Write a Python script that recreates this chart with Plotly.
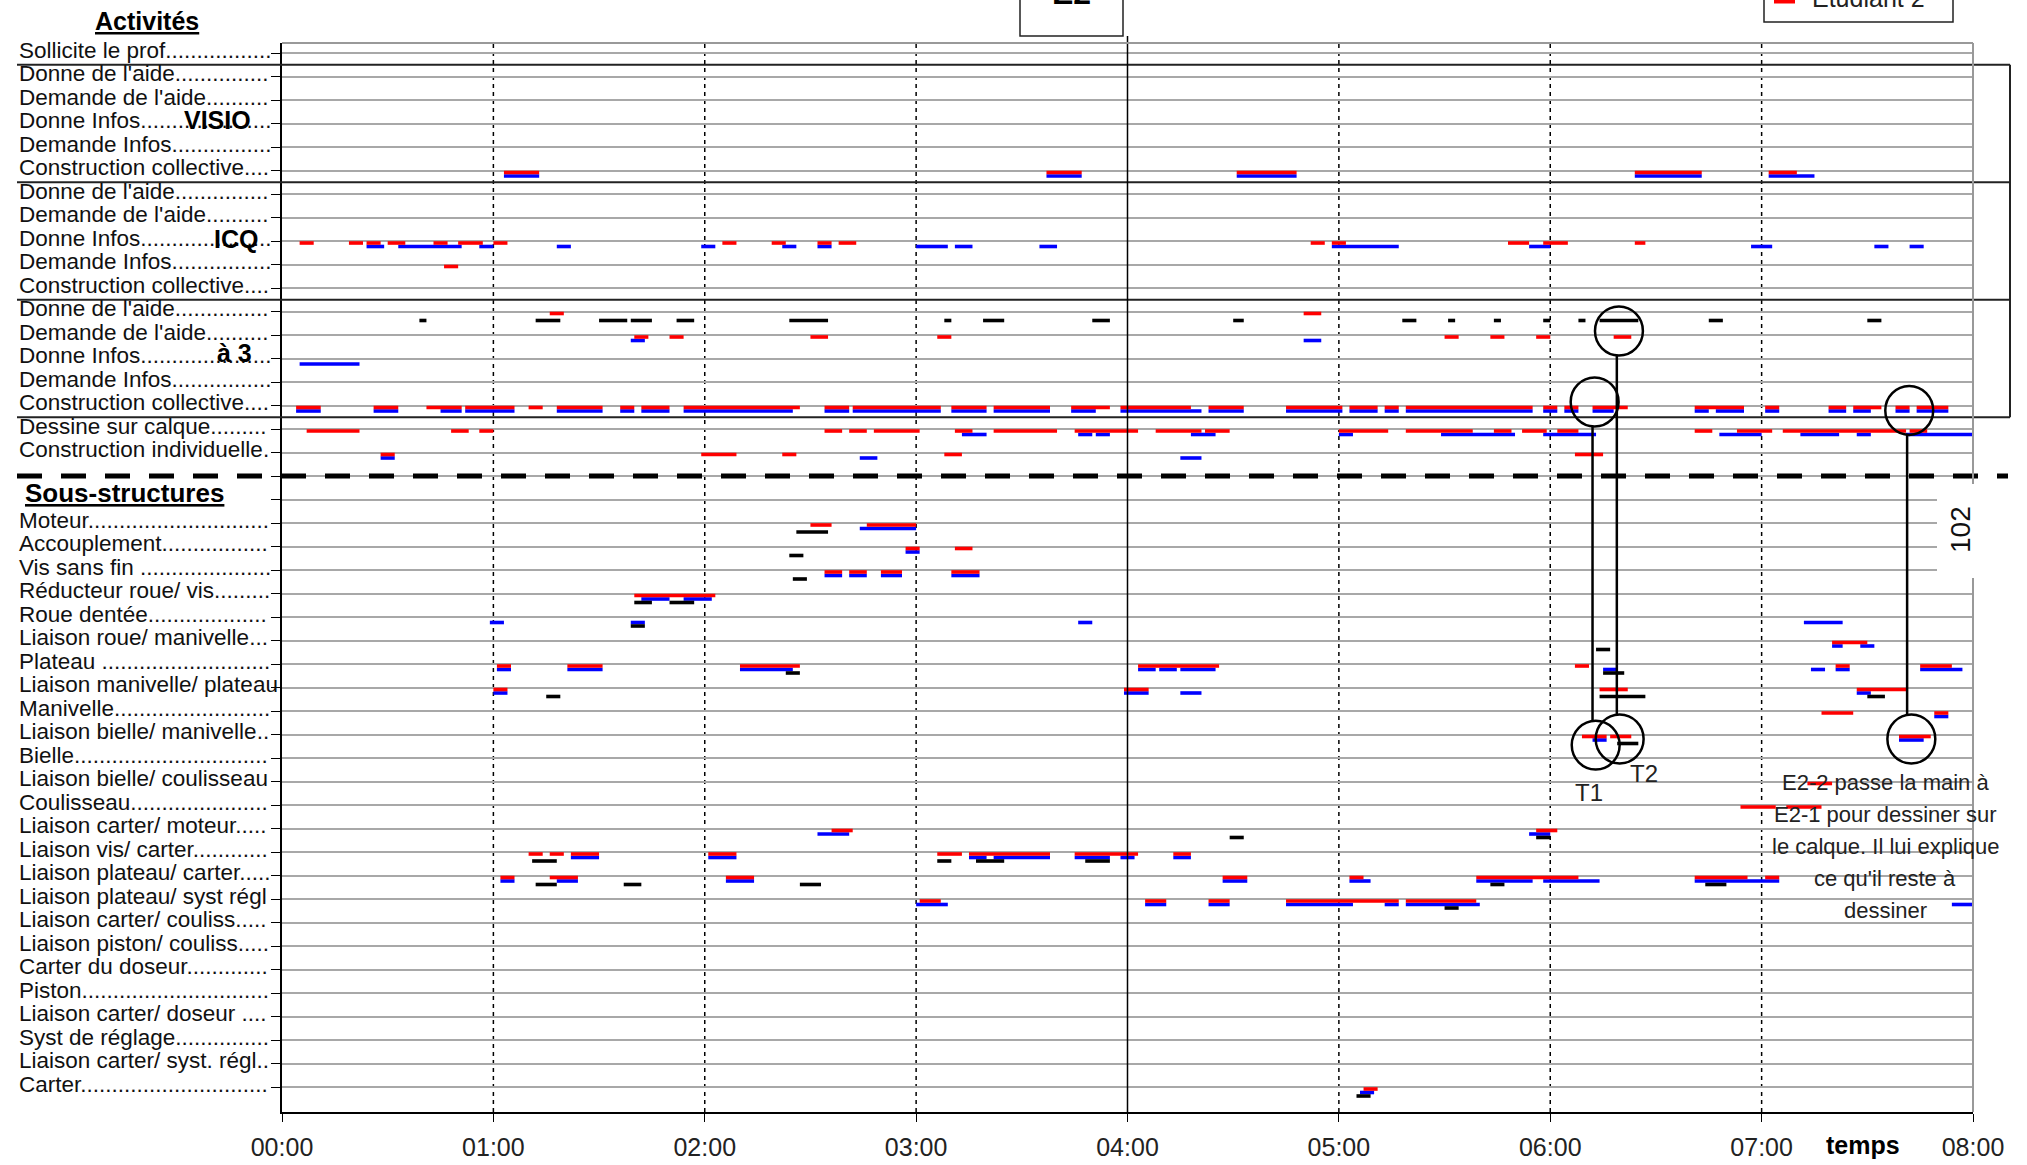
import plotly.graph_objects as go

W, H = 2027, 1165
ML, MR, MT, MB = 282, 54, 43, 53          # marges du graphe en px
PAS = 23.5                               # hauteur d'une ligne en px
Y0 = 53                                  # position px de la ligne 0

heures = ["00:00", "01:00", "02:00", "03:00", "04:00", "05:00", "06:00", "07:00", "08:00"]

activites = [
    "Sollicite le prof",
    "Donne de l'aide", "Demande de l'aide", "Donne Infos", "Demande Infos", "Construction collective",
    "Donne de l'aide", "Demande de l'aide", "Donne Infos", "Demande Infos", "Construction collective",
    "Donne de l'aide", "Demande de l'aide", "Donne Infos", "Demande Infos", "Construction collective",
    "Dessine sur calque", "Construction individuelle",
]
sous_structures = [
    "Moteur", "Accouplement", "Vis sans fin ", "Réducteur roue/ vis", "Roue dentée",
    "Liaison roue/ manivelle", "Plateau ", "Liaison manivelle/ plateau", "Manivelle",
    "Liaison bielle/ manivelle", "Bielle", "Liaison bielle/ coulisseau", "Coulisseau",
    "Liaison carter/ moteur", "Liaison vis/ carter", "Liaison plateau/ carter",
    "Liaison plateau/ syst régl", "Liaison carter/ couliss", "Liaison piston/ couliss",
    "Carter du doseur", "Piston", "Liaison carter/ doseur ", "Syst de réglage",
    "Liaison carter/ syst. régl", "Carter",
]
lignes = activites + ["", ""] + sous_structures

groupes = ["VISIO", "ICQ", "à 3"]

# segments (ligne, début en min, fin en min)
etudiant2 = [  # rouge
    (5, 63, 73), (5, 217, 227), (5, 271, 288), (5, 384, 403), (5, 422, 430),
    (8, 5, 9), (8, 19, 23), (8, 24, 28), (8, 30, 35), (8, 43, 47), (8, 50, 57), (8, 60, 64),
    (8, 125, 129), (8, 139, 143), (8, 152, 156), (8, 158, 163), (8, 292, 296), (8, 298, 302),
    (8, 348, 354), (8, 358, 365), (8, 384, 387),
    (9, 46, 50),
    (11, 76, 80), (11, 290, 295),
    (12, 100, 104), (12, 110, 114), (12, 150, 155), (12, 186, 190), (12, 330, 334),
    (12, 343, 347), (12, 356, 360), (12, 378, 383),
    (15, 4, 11), (15, 26, 33), (15, 41, 51), (15, 52, 66), (15, 70, 74), (15, 78, 91),
    (15, 96, 100), (15, 102, 110), (15, 114, 147), (15, 154, 161), (15, 162, 187),
    (15, 190, 200), (15, 202, 218), (15, 224, 235), (15, 238, 258), (15, 263, 273),
    (15, 285, 301), (15, 303, 311), (15, 313, 317), (15, 319, 355), (15, 358, 362),
    (15, 364, 368), (15, 372, 382), (15, 401, 415), (15, 421, 425), (15, 439, 444),
    (15, 446, 454), (15, 458, 462), (15, 464, 473),
    (16, 7, 22), (16, 48, 53), (16, 56, 60), (16, 154, 159), (16, 161, 166), (16, 168, 181),
    (16, 191, 196), (16, 202, 220), (16, 225, 243), (16, 248, 261), (16, 262, 269),
    (16, 300, 314), (16, 319, 338), (16, 344, 349), (16, 352, 359), (16, 362, 368),
    (16, 401, 406), (16, 413, 423), (16, 426, 461), (16, 462, 467),
    (17, 28, 32), (17, 119, 129), (17, 142, 146), (17, 188, 193), (17, 367, 375),
    (20, 150, 156), (20, 166, 180),
    (21, 177, 181), (21, 191, 196),
    (22, 154, 159), (22, 161, 166), (22, 170, 176), (22, 190, 198),
    (23, 100, 123),
    (25, 440, 450),
    (26, 61, 65), (26, 81, 91), (26, 130, 147), (26, 243, 266), (26, 367, 371),
    (26, 441, 445), (26, 465, 474),
    (27, 60, 64), (27, 239, 246), (27, 374, 382), (27, 447, 461),
    (28, 437, 446), (28, 469, 473),
    (29, 369, 376), (29, 377, 383), (29, 459, 468),
    (31, 433, 440),
    (32, 414, 424), (32, 427, 437),
    (33, 156, 162), (33, 356, 362),
    (34, 70, 74), (34, 76, 80), (34, 82, 90), (34, 121, 129), (34, 186, 193),
    (34, 195, 218), (34, 225, 243), (34, 253, 258),
    (35, 62, 66), (35, 76, 84), (35, 126, 134), (35, 267, 274), (35, 303, 307),
    (35, 339, 368), (35, 401, 416), (35, 421, 425),
    (36, 181, 187), (36, 245, 251), (36, 263, 269), (36, 285, 317), (36, 319, 339),
    (44, 307, 311),
]
etudiant1 = [  # bleu
    (5, 63, 73), (5, 217, 227), (5, 271, 288), (5, 384, 403), (5, 422, 435),
    (8, 24, 29), (8, 33, 51), (8, 56, 60), (8, 78, 82), (8, 119, 123), (8, 142, 146),
    (8, 152, 156), (8, 180, 189), (8, 191, 196), (8, 215, 220), (8, 298, 317),
    (8, 354, 360), (8, 417, 423), (8, 452, 456), (8, 462, 466),
    (12, 99, 103), (12, 290, 295),
    (13, 5, 22),
    (15, 4, 11), (15, 26, 33), (15, 45, 51), (15, 52, 66), (15, 78, 91), (15, 96, 100),
    (15, 102, 110), (15, 114, 145), (15, 154, 161), (15, 162, 187), (15, 190, 200),
    (15, 202, 218), (15, 224, 231), (15, 238, 261), (15, 263, 273), (15, 285, 301),
    (15, 303, 311), (15, 313, 317), (15, 319, 355), (15, 358, 362), (15, 364, 368),
    (15, 372, 378), (15, 401, 405), (15, 407, 415), (15, 421, 425), (15, 439, 444),
    (15, 446, 451), (15, 458, 462), (15, 464, 473),
    (16, 193, 200), (16, 226, 230), (16, 231, 235), (16, 258, 265), (16, 300, 304),
    (16, 329, 350), (16, 358, 373), (16, 408, 420), (16, 431, 442), (16, 447, 451),
    (16, 461, 480),
    (17, 28, 32), (17, 164, 169), (17, 255, 261),
    (20, 164, 180),
    (21, 177, 181),
    (22, 154, 159), (22, 161, 166), (22, 170, 176), (22, 190, 198),
    (23, 102, 110), (23, 114, 122),
    (24, 59, 63), (24, 99, 103), (24, 226, 230), (24, 432, 443),
    (25, 440, 443), (25, 448, 452),
    (26, 61, 65), (26, 81, 91), (26, 130, 145), (26, 243, 248), (26, 249, 254),
    (26, 255, 265), (26, 375, 379), (26, 434, 438), (26, 441, 445), (26, 465, 477),
    (27, 60, 64), (27, 239, 246), (27, 255, 261), (27, 447, 451),
    (28, 469, 473),
    (29, 372, 376), (29, 459, 466),
    (33, 152, 161), (33, 354, 360),
    (34, 82, 90), (34, 121, 129), (34, 195, 200), (34, 202, 218), (34, 225, 235),
    (34, 238, 242), (34, 253, 258),
    (35, 62, 66), (35, 78, 84), (35, 126, 134), (35, 267, 274), (35, 303, 309),
    (35, 339, 355), (35, 358, 374), (35, 401, 425),
    (36, 180, 189), (36, 245, 251), (36, 263, 269), (36, 285, 304), (36, 313, 317),
    (36, 319, 340), (36, 474, 480),
    (44, 306, 310),
]
ensemble = [  # noir
    (11, 39, 41), (11, 72, 79), (11, 90, 98), (11, 99, 105), (11, 112, 117), (11, 144, 155),
    (11, 188, 190), (11, 199, 205), (11, 230, 235), (11, 270, 273), (11, 318, 322),
    (11, 331, 333), (11, 344, 346), (11, 358, 360), (11, 368, 370), (11, 374, 385),
    (11, 405, 409), (11, 450, 454),
    (20, 146, 155), (21, 144, 148), (22, 145, 149), (23, 100, 105), (23, 110, 117),
    (24, 99, 103), (25, 373, 377), (26, 143, 147), (26, 375, 381),
    (27, 75, 79), (27, 374, 387), (27, 450, 455), (29, 379, 385),
    (33, 269, 273), (33, 356, 360),
    (34, 71, 78), (34, 186, 190), (34, 197, 205), (34, 228, 235),
    (35, 72, 78), (35, 97, 102), (35, 147, 153), (35, 343, 347), (35, 404, 410),
    (36, 330, 334), (44, 305, 309),
]

# repères T1 / T2 : (nom, t haut, ligne haut, t bas, ligne bas)
reperes = [("T1", 372.6, 14.85, 372.9, 29.45),
           ("T2", 379.5, 11.83, 379.7, 29.19),
           ("", 461.9, 15.21, 462.5, 29.19)]

note = ["E2-2 passe la main à", "E2-1 pour dessiner sur", "le calque. Il lui explique",
        "ce qu'il reste à", "dessiner"]


def px_x(X):
    return (X - ML) / (W - ML - MR)


def px_y(Y):
    return 1 - (Y - MT) / (H - MT - MB)


def ligne(Y):
    return (Y - Y0) / PAS


# largeurs Arial (1/1000 em) pour remplir les libellés avec des points
LARG = {c: 556 for c in "abdeghnopqu023456789éèàâ"}
LARG.update({c: 500 for c in "cksvxyz"})
LARG.update({c: 222 for c in "ijl"})
LARG.update({"f": 278, "t": 278, "r": 333, "m": 833, "w": 722, " ": 278, "'": 191,
             "/": 278, ".": 278, "A": 667, "B": 667, "C": 722, "D": 722, "E": 667,
             "L": 556, "M": 833, "P": 667, "R": 722, "S": 667, "V": 667, "I": 278})


def pointille(txt, cible=11250):
    w = sum(LARG.get(c, 556) for c in txt)
    while w + 278 <= cible:
        txt += "."
        w += 278
    return txt


def segments(data, dy):
    xs, ys = [], []
    for r, a, b in data:
        xs += [a, b, None]
        ys += [r + dy, r + dy, None]
    return xs, ys


def texte(fig, x, y, txt, size, xref="paper", yref="y", xanchor="center", color="#111", **kw):
    fig.add_annotation(x=x, y=y, xref=xref, yref=yref, text=txt, showarrow=False,
                       xanchor=xanchor, yanchor="middle", font=dict(size=size, color=color), **kw)


fig = go.Figure()
for nom, data, coul, dy in [("Etudiant 1", etudiant1, "#0000ff", 5.5 / PAS),
                            ("Etudiant 2", etudiant2, "#ff0000", 2 / PAS),
                            ("Ensemble", ensemble, "#000000", 9 / PAS)]:
    xs, ys = segments(data, dy)
    fig.add_scatter(x=xs, y=ys, mode="lines", name=nom, line=dict(color=coul, width=3.6),
                    showlegend=False)

police = "Liberation Sans, Arial, sans-serif"

# libellés des lignes
for i, lab in enumerate(lignes):
    if lab:
        texte(fig, px_x(17), i, pointille(lab), 22.5, xanchor="left", yshift=3)

for g, (X, Y) in zip(groupes, [(217, 120), (236, 239), (234, 353)]):
    texte(fig, px_x(X), ligne(Y), "<b>%s</b>" % g, 25, color="#000")

texte(fig, px_x(147), px_y(21), "<b><u>Activités</u></b>", 25, yref="paper", color="#000")
texte(fig, px_x(124), ligne(493), "<b><u>Sous-structures</u></b>", 26, color="#000")
texte(fig, 448.7, px_y(1145), "<b>temps</b>", 25, xref="x", yref="paper", color="#000")

# cadres des groupes d'activités
for r in [0.5, 5.5, 10.5, 15.5]:
    fig.add_shape(type="line", xref="paper", yref="y", x0=px_x(17), x1=px_x(2010), y0=r, y1=r,
                  line=dict(color="#222", width=2))
fig.add_shape(type="line", xref="paper", yref="y", x0=px_x(2010), x1=px_x(2010), y0=0.5, y1=15.5,
              line=dict(color="#222", width=2))

# séparation activités / sous-structures
fig.add_shape(type="line", xref="paper", yref="y", x0=px_x(17), x1=px_x(2008), y0=18, y1=18,
              line=dict(color="#000", width=5, dash="25px,19px"))

# heures
for h in [1, 2, 3, 5, 6, 7]:
    fig.add_shape(type="line", xref="x", yref="paper", x0=60 * h, x1=60 * h, y0=0, y1=1,
                  layer="below", line=dict(color="#000", width=1.5, dash="4px,4px"))
fig.add_shape(type="line", xref="x", yref="paper", x0=240, x1=240, y0=0, y1=px_y(36),
              line=dict(color="#000", width=1.5))
fig.add_shape(type="line", xref="paper", yref="paper", x0=0, x1=1, y0=1, y1=1,
              line=dict(color="#999", width=2))
fig.add_shape(type="line", xref="paper", yref="paper", x0=1, x1=1, y0=0, y1=1,
              line=dict(color="#999", width=2))

# cadre E2
fig.add_shape(type="rect", xref="paper", yref="paper", x0=px_x(1020), x1=px_x(1123),
              y0=px_y(36), y1=px_y(-30), line=dict(color="#222", width=1.5), fillcolor="white")
texte(fig, px_x(1071), px_y(-7), "<b>E2</b>", 32, yref="paper", color="#000")

# légende (coupée en haut)
fig.add_shape(type="rect", xref="paper", yref="paper", x0=px_x(1764), x1=px_x(1953),
              y0=px_y(22), y1=px_y(-30), line=dict(color="#222", width=1.5), fillcolor="white")
fig.add_shape(type="line", xref="paper", yref="paper", x0=px_x(1774), x1=px_x(1795),
              y0=px_y(1), y1=px_y(1), line=dict(color="#ff0000", width=5))
texte(fig, px_x(1810), px_y(-2), "Etudiant 2", 25, yref="paper", xanchor="left", color="#222")

# repères T1 / T2
rx, ry = 6.8, 1.04
for nom, ta, ra, tb, rb in reperes:
    for t, r in [(ta, ra), (tb, rb)]:
        fig.add_shape(type="circle", xref="x", yref="y", x0=t - rx, x1=t + rx, y0=r - ry,
                      y1=r + ry, line=dict(color="#000", width=2.5))
    fig.add_shape(type="line", xref="x", yref="y", x0=ta - 0.6, x1=ta - 0.6, y0=ra + ry,
                  y1=rb - ry, line=dict(color="#000", width=2.5))
texte(fig, 370.9, 31.45, "T1", 24, xref="x", color="#222")
texte(fig, 386.6, 30.64, "T2", 24, xref="x", color="#222")

# commentaire
for k, txt in enumerate(note):
    texte(fig, px_x(1885), 31.06 + 1.36 * k, txt, 22, color="#222")

# étiquette 102
fig.add_shape(type="rect", xref="paper", yref="y", x0=px_x(1937), x1=px_x(1995),
              y0=ligne(484), y1=ligne(578), line=dict(width=0), fillcolor="white")
texte(fig, px_x(1960), ligne(530), "102", 28, textangle=-90)

fig.update_xaxes(range=[0, 480], tickvals=[60 * i for i in range(9)], ticktext=heures,
                 showgrid=False, zeroline=False, showline=True, linecolor="#000", linewidth=2,
                 ticks="outside", ticklen=8, tickcolor="#000", ticklabelstandoff=4,
                 tickfont=dict(size=25, color="#222"))
fig.update_yaxes(range=[ligne(MT + (H - MT - MB)), ligne(MT)], tickvals=list(range(45)),
                 showticklabels=False, showgrid=True, gridcolor="#a8a8a8", gridwidth=2,
                 zeroline=False, showline=True, linecolor="#000", linewidth=2,
                 ticks="outside", ticklen=9, tickcolor="#000")
fig.update_layout(width=W, height=H, margin=dict(l=ML, r=MR, t=MT, b=MB, autoexpand=False),
                  plot_bgcolor="white", paper_bgcolor="white",
                  font=dict(family=police, color="#111"), showlegend=False)

fig.write_html("out.html", config={"displayModeBar": False},
               post_script="document.body.style.margin='0';document.body.style.overflow='hidden';")
